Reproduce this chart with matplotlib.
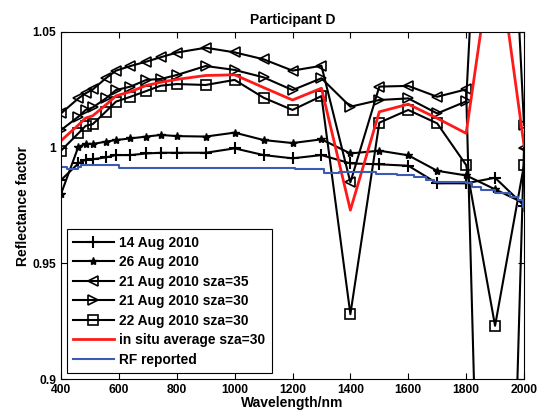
import matplotlib
matplotlib.use("Agg")
import matplotlib.pyplot as plt

plt.rcParams['font.family'] = ['Liberation Sans', 'DejaVu Sans']
plt.rcParams['font.weight'] = 'bold'

wavelength = [400, 460, 485, 510, 555, 590, 640, 695, 745, 800, 900, 1000,
              1100, 1200, 1300, 1400, 1500, 1600, 1700, 1800, 1900, 2000]

aug14 = [0.986, 0.9932, 0.9948, 0.995, 0.9958, 0.9968, 0.9968, 0.9975, 0.9978, 0.9978, 0.9978, 0.9997,
         0.9968, 0.9954, 0.9968, 0.9932, 0.9928, 0.9922, 0.9846, 0.9846, 0.987, 0.975]
aug26 = [0.980, 1.0004, 1.0016, 1.0016, 1.0026, 1.0033, 1.004, 1.0048, 1.0055, 1.005, 1.0048, 1.0065,
         1.0033, 1.002, 1.0036, 0.9975, 0.9987, 0.9967, 0.990, 0.988, 0.982, 0.976]
aug21_sza35 = [1.0148, 1.0213, 1.0235, 1.0252, 1.030, 1.0333, 1.0353, 1.0372, 1.0391, 1.0411, 1.0432, 1.0412,
               1.0382, 1.0333, 1.0354, 0.985, 1.0264, 1.0267, 1.022, 1.0252, 0.56, 1.0]
aug21_sza30 = [1.0076, 1.0134, 1.0163, 1.0174, 1.0213, 1.0249, 1.0264, 1.0293, 1.0297, 1.0314, 1.0353, 1.0336,
               1.0304, 1.0249, 1.030, 1.0177, 1.0206, 1.0213, 1.0148, 1.020, 1.263, 1.0098]
aug22_sza30 = [0.9987, 1.0062, 1.0094, 1.0102, 1.0156, 1.0199, 1.022, 1.0245, 1.0268, 1.0275, 1.0271, 1.0293,
               1.0216, 1.0163, 1.0223, 0.928, 1.0108, 1.0163, 1.0105, 0.9925, 0.923, 0.9925]
insitu_avg = [1.003, 1.0098, 1.0128, 1.0138, 1.0185, 1.0224, 1.0242, 1.0269, 1.0283, 1.0295, 1.0312, 1.0315,
              1.026, 1.0206, 1.0257, 0.973, 1.0155, 1.0188, 1.0127, 1.0062, 1.093, 1.001]

rf_wavelength = [400, 420, 440, 460, 470, 600, 1210, 1310, 1360, 1490, 1560, 1620, 1660, 1690,
                 1800, 1820, 1850, 1900, 1950, 1980, 1995, 2000]
rf_reported = [0.9918, 0.9908, 0.9908, 0.9915, 0.9925, 0.9913, 0.9906, 0.9889, 0.9896, 0.9887, 0.9880, 0.9872,
               0.9862, 0.9853, 0.9846, 0.9830, 0.9817, 0.9803, 0.9788, 0.9774, 0.9745, 0.9725]

labels = ['14 Aug 2010', '26 Aug 2010', '21 Aug 2010 sza=35', '21 Aug 2010 sza=30',
          '22 Aug 2010 sza=30', 'in situ average sza=30', 'RF reported']

fig = plt.figure(figsize=(5.37, 4.15), dpi=100)
ax = fig.add_axes([0.1136, 0.0867, 0.8622, 0.8362])

lw = 1.5
ax.plot(wavelength, aug14, color='black', lw=lw, marker='+', ms=8, mew=1.5, label=labels[0])
ax.plot(wavelength, aug26, color='black', lw=lw, marker='*', ms=6, mew=1.0, label=labels[1])
ax.plot(wavelength, aug21_sza35, color='black', lw=lw, marker='<', ms=7, mfc='none', mew=1.2, label=labels[2])
ax.plot(wavelength, aug21_sza30, color='black', lw=lw, marker='>', ms=7, mfc='none', mew=1.2, label=labels[3])
ax.plot(wavelength, aug22_sza30, color='black', lw=lw, marker='s', ms=6.5, mfc='none', mew=1.2, label=labels[4])
ax.plot(wavelength, insitu_avg, color='#ff1a1a', lw=2.0, label=labels[5])
ax.plot(rf_wavelength, rf_reported, color='#3b5bb5', lw=1.5, drawstyle='steps-post', label=labels[6])

ax.set_xlim(400, 2000)
ax.set_ylim(0.9, 1.05)
ax.set_xticks(range(400, 2001, 200))
ax.set_yticks([0.9, 0.95, 1.0, 1.05])
ax.set_yticklabels(['0.9', '0.95', '1', '1.05'])
ax.tick_params(direction='in', top=True, right=True, labelsize=8.7, length=4, width=0.8)
for lab in ax.get_xticklabels() + ax.get_yticklabels():
    lab.set_fontweight('bold')
for s in ax.spines.values():
    s.set_linewidth(0.8)

ax.set_title('Participant D', fontsize=10, fontweight='bold', pad=6)
ax.set_xlabel('Wavelength/nm', fontsize=10, fontweight='bold', labelpad=0)
ax.set_ylabel('Reflectance factor', fontsize=10, fontweight='bold', labelpad=2)

leg = ax.legend(loc='lower left', bbox_to_anchor=(0.012, 0.018), fontsize=9.9, handlelength=3.0,
                labelspacing=0.4, borderpad=0.45, borderaxespad=0, handletextpad=0.4,
                fancybox=False, framealpha=1, edgecolor='black')
leg.get_frame().set_linewidth(0.8)
for t in leg.get_texts():
    t.set_fontweight('bold')

fig.savefig('out.png', dpi=100)
